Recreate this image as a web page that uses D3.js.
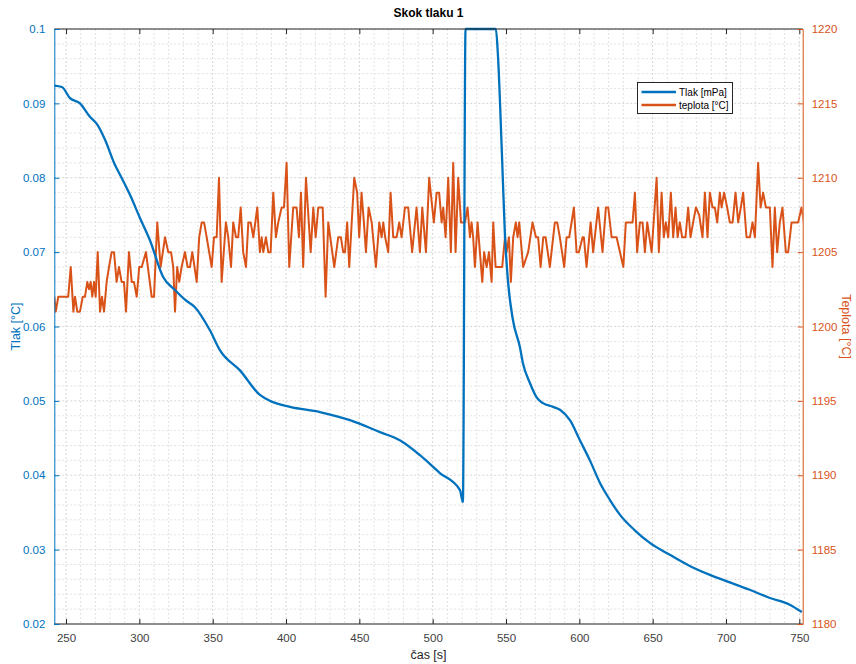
<!DOCTYPE html>
<html>
<head>
	<meta charset="utf-8">
	<title>Skok tlaku 1</title>
	<style type="text/css">
		html, body {
			margin: 0;
			padding: 0;
			background-color: #fff;
		}
		svg text {
			font-family: "Liberation Sans", Arial, Helvetica, sans-serif;
		}
	</style>
</head>
<body>
	<div id="chart"></div>
	<script src="https://cdn.jsdelivr.net/npm/d3@7/dist/d3.min.js"></script>
	<script type="text/javascript">
		// tlak (left axis) - time [s] and value
		const tlakTime = [242, 247.2, 252.7, 259.5, 266.3, 271.1, 276.6, 283.4, 286.8, 293.6, 300.4, 307.2,
			316.1, 324.3, 331.1, 337.9, 348.1, 355, 368.6, 382.2, 389.1, 402.7, 423.1, 443.6, 464, 477.6,
			491.3, 504.9, 518.6, 520.6, 522.4, 543.1, 544.4, 547.2, 549.2, 551.3, 554.7, 559.5, 561.5,
			566.3, 571.1, 575.2, 582, 586.8, 593.6, 600.4, 607.2, 614, 620.8, 627.6, 637.8, 648.1, 661.7,
			675.3, 689, 702.6, 716.2, 729.9, 743.5, 751.7];
		const tlakVal = [0.0924, 0.0922, 0.0907, 0.0900, 0.0882, 0.0872, 0.0851, 0.0817, 0.0804, 0.0777, 0.0746, 0.0716,
			0.0667, 0.0649, 0.0636, 0.0626, 0.0595, 0.0568, 0.0541, 0.0508, 0.0500, 0.0492, 0.0485, 0.0474, 0.0458, 0.0447,
			0.0427, 0.0403, 0.0380, 0.0364, 0.1, 0.1, 0.0968, 0.0833, 0.0726, 0.0662, 0.0609, 0.0572, 0.0551,
			0.0524, 0.0504, 0.0497, 0.0492, 0.0488, 0.0474, 0.0447, 0.0420, 0.0390, 0.0367, 0.0347, 0.0326, 0.0309, 0.0293,
			0.0278, 0.0266, 0.0256, 0.0246, 0.0235, 0.0226, 0.0216];

		// teplota (right axis) - time [s] and value
		const tempTime = [242, 243, 244.7, 251.5, 253.2, 255, 256.1, 257.7, 259.5, 261.4, 262.9, 264.5, 265.7, 266.8,
			267.9, 269.1, 270.2, 271.6, 273.2, 274.5, 275.9, 277.7, 279.3, 281.1, 282.7, 284.5, 286.1, 287.9, 289.5,
			290.9, 292.9, 294.8, 296.3, 298.2, 299.9, 301.6, 304.5, 308.4, 310, 312.2, 314.5, 317.5, 319.7, 321.6,
			323.1, 324.3, 325.8, 327.2, 328.8, 331.1, 332.9, 334.5, 336.1, 339.1, 340.8, 342.5, 344.1, 345.9, 349.3,
			350.9, 352.7, 354.3, 356.1, 359, 360.6, 362.5, 364, 365.9, 367.4, 369.1, 370.8, 372.7, 374.3, 375.9,
			377.7, 380.4, 382.2, 383.4, 384.5, 386.3, 387.9, 389.5, 391.3, 393.1, 394.7, 397, 398.6, 400.4, 402.2,
			404.9, 407.2, 408.8, 410.2, 411.7, 413.6, 416.8, 418.6, 420.2, 422, 425, 427, 428.8, 432.9, 435.6,
			437.4, 439, 440.2, 441.7, 443.1, 446.5, 448.5, 449.9, 451.5, 453.1, 454.5, 456.3, 458.4, 461.3, 463.6,
			465.2, 466.3, 467.6, 469.7, 471.3, 473.1, 475.4, 477.2, 478.8, 481.1, 483.3, 486, 489, 491.3, 492.9,
			495.4, 497.6, 500.8, 502.7, 504.4, 506.1, 507.2, 508.8, 510.6, 512.4, 514, 515.6, 517.4, 519.3, 522,
			523.8, 525.4, 526.5, 527.6, 528.8, 530.6, 532.2, 533.8, 535.1, 536.8, 538.4, 540.2, 541.3, 542.9, 544.7,
			547.4, 549.3, 550.4, 552, 553.3, 554.9, 556.7, 557.9, 559, 561.7, 565.1, 568.1, 570.4, 571.9, 573.6,
			575.4, 577, 579.9, 583.3, 584.9, 586.7, 589.7, 591.3, 593.1, 596.3, 598.1, 599.7, 602.2, 603.1, 604.9,
			607.7, 609.4, 612.8, 615.8, 618.1, 619.7, 622, 625.4, 630, 631.7, 634.5, 636.3, 637.9, 639.4, 641.3,
			643.1, 644.7, 646.3, 649.3, 652.7, 654.2, 656.1, 657.6, 659, 660.6, 662.4, 664, 665.6, 667, 668.5,
			670.1, 672.4, 674.2, 675.8, 677.6, 679.5, 681.7, 684, 685.6, 687.4, 689, 690.8, 692.4, 694, 695.8,
			697, 698.7, 700.8, 702.6, 704.5, 706.5, 708.3, 710.1, 711.7, 714, 716.3, 718.1, 719.7, 721.9, 723.6,
			725.3, 727.2, 729.9, 731.7, 733.3, 734.9, 736.7, 738.5, 740.8, 742.4, 744.7, 746.9, 749.2, 751.5, 753.1];
		const tempVal = [1202, 1201, 1202, 1202, 1204, 1201, 1202, 1201, 1201, 1202, 1202, 1203, 1202.5, 1203,
			1202, 1203, 1202, 1205, 1201, 1202, 1201, 1203, 1204, 1205, 1205, 1203, 1204, 1203, 1203,
			1201, 1205, 1203, 1203, 1202, 1204, 1204, 1205, 1202, 1202, 1207, 1204, 1206, 1205, 1205,
			1204, 1201, 1204, 1203, 1204, 1205, 1204, 1204, 1205, 1203, 1206, 1207, 1207, 1206, 1204,
			1206, 1206, 1210, 1203, 1207, 1206, 1204, 1207, 1206, 1206, 1208, 1205, 1204, 1207, 1207,
			1206, 1208, 1205, 1206, 1205, 1206, 1205, 1205, 1209, 1206, 1207, 1208, 1208, 1211, 1204,
			1208, 1208, 1206, 1209, 1204, 1210, 1205, 1208, 1206, 1208, 1208, 1202, 1207, 1204, 1206,
			1206, 1205, 1205, 1207, 1204, 1210, 1209, 1206, 1209, 1207, 1205, 1208, 1207, 1204, 1207,
			1206, 1207, 1206, 1205, 1209, 1206, 1206, 1207, 1206, 1208, 1208, 1205, 1208, 1205, 1208,
			1205, 1210, 1207, 1209, 1209, 1207, 1208, 1206, 1210, 1205, 1211, 1205, 1210, 1207, 1207,
			1208, 1206, 1207, 1206, 1204, 1207, 1205, 1203, 1205, 1204, 1205, 1203, 1207, 1204, 1204,
			1204, 1206, 1205, 1206, 1203, 1206, 1207, 1206, 1207, 1204, 1205, 1207, 1206, 1206, 1204,
			1206, 1206, 1204, 1207, 1207, 1206, 1204, 1206, 1206, 1208, 1205, 1205, 1206, 1206, 1204,
			1207, 1205, 1208, 1205, 1208, 1208, 1206, 1206, 1204, 1207, 1207, 1207, 1209, 1205, 1207,
			1207, 1205, 1207, 1205, 1210, 1205, 1209, 1206, 1207, 1206, 1209, 1206, 1208, 1206, 1207,
			1206, 1206, 1208, 1206, 1207, 1208, 1207.5, 1206, 1209, 1206, 1209, 1208, 1208, 1207, 1209,
			1208, 1209, 1208, 1207, 1207, 1209, 1207, 1208, 1209, 1206, 1206, 1207, 1206, 1211, 1208,
			1209, 1208, 1208, 1204, 1208, 1205, 1207, 1208, 1205, 1205, 1207, 1207, 1207, 1208, 1207];

		const xTicks = [250, 300, 350, 400, 450, 500, 550, 600, 650, 700, 750];
		const yLeftTicks = [0.02, 0.03, 0.04, 0.05, 0.06, 0.07, 0.08, 0.09, 0.1];
		const yLeftLabels = ['0.02', '0.03', '0.04', '0.05', '0.06', '0.07', '0.08', '0.09', '0.1'];
		const yRightTicks = [1180, 1185, 1190, 1195, 1200, 1205, 1210, 1215, 1220];

		const width = 856, height = 664;
		const margin = { left: 54.3, right: 856 - 802.7, top: 29, bottom: 664 - 624 };
		const blue = '#0072BD', orange = '#D95319', axisGray = '#262626';

		const svg = d3.select('#chart')
			.append('svg')
			.attr('width', width)
			.attr('height', height);

		const xScale = d3.scaleLinear()
			.domain([242, 752.3])
			.range([margin.left, width - margin.right]);

		const yLeft = d3.scaleLinear()
			.domain([0.02, 0.1])
			.range([height - margin.bottom, margin.top]);

		const yRight = d3.scaleLinear()
			.domain([1180, 1220])
			.range([height - margin.bottom, margin.top]);

		const x0 = margin.left, x1 = width - margin.right;
		const y0 = height - margin.bottom, y1 = margin.top;

		// grid (minor + major)
		const grid = svg.append('g');
		grid.selectAll('.vminor')
			.data(d3.range(250, 752, 10))
			.enter().append('line')
			.attr('x1', d => xScale(d)).attr('x2', d => xScale(d))
			.attr('y1', y1).attr('y2', y0)
			.attr('stroke', d => d % 50 === 0 ? '#d4d4d4' : '#e2e2e2')
			.attr('stroke-width', 1)
			.attr('stroke-dasharray', '2,2');
		grid.selectAll('.hminor')
			.data(d3.range(0, 41, 1))
			.enter().append('line')
			.attr('x1', x0).attr('x2', x1)
			.attr('y1', d => yRight(1180 + d)).attr('y2', d => yRight(1180 + d))
			.attr('stroke', d => d % 5 === 0 ? '#d4d4d4' : '#e2e2e2')
			.attr('stroke-width', 1)
			.attr('stroke-dasharray', '2,2');

		svg.append('defs').append('clipPath')
			.attr('id', 'clip')
			.append('rect')
			.attr('x', x0).attr('y', y1 - 2)
			.attr('width', x1 - x0).attr('height', y0 - y1 + 4);

		const tlakLine = d3.line()
			.curve(d3.curveMonotoneX)
			.x(d => xScale(d[0]))
			.y(d => yLeft(d[1]));
		const tempLine = d3.line()
			.x(d => xScale(d[0]))
			.y(d => yRight(d[1]));

		svg.append('path')
			.attr('clip-path', 'url(#clip)')
			.attr('d', tempLine(tempTime.map((t, i) => [t, tempVal[i]])))
			.attr('fill', 'none')
			.attr('stroke', orange)
			.attr('stroke-width', 2)
			.attr('stroke-linejoin', 'round');

		svg.append('path')
			.attr('clip-path', 'url(#clip)')
			.attr('d', tlakLine(tlakTime.map((t, i) => [t, tlakVal[i]])))
			.attr('fill', 'none')
			.attr('stroke', blue)
			.attr('stroke-width', 2.3)
			.attr('stroke-linejoin', 'round');

		// axes
		const xAxisB = d3.axisBottom(xScale).tickValues(xTicks).tickSize(-5).tickPadding(10);
		const gx = svg.append('g').attr('transform', `translate(0,${y0})`).call(xAxisB);
		gx.select('.domain').remove();
		gx.selectAll('line').attr('stroke', axisGray);
		gx.selectAll('text').attr('fill', '#404040').attr('font-size', 11.5);

		const xAxisT = d3.axisTop(xScale).tickValues(xTicks).tickSize(-5).tickFormat('');
		const gxt = svg.append('g').attr('transform', `translate(0,${y1})`).call(xAxisT);
		gxt.select('.domain').remove();
		gxt.selectAll('line').attr('stroke', axisGray);

		svg.append('line').attr('x1', x0).attr('x2', x1).attr('y1', y0).attr('y2', y0)
			.attr('stroke', axisGray).attr('stroke-width', 1);
		svg.append('line').attr('x1', x0).attr('x2', x1).attr('y1', y1).attr('y2', y1)
			.attr('stroke', axisGray).attr('stroke-width', 1);

		const yAxisL = d3.axisLeft(yLeft).tickValues(yLeftTicks).tickSize(-5).tickPadding(9)
			.tickFormat((d, i) => yLeftLabels[i]);
		const gyl = svg.append('g').attr('transform', `translate(${x0},0)`).call(yAxisL);
		gyl.select('.domain').attr('stroke', blue);
		gyl.selectAll('line').attr('stroke', blue);
		gyl.selectAll('text').attr('fill', blue).attr('font-size', 11.5);

		const yAxisR = d3.axisRight(yRight).tickValues(yRightTicks).tickSize(-5).tickPadding(9)
			.tickFormat(d3.format('d'));
		const gyr = svg.append('g').attr('transform', `translate(${x1},0)`).call(yAxisR);
		gyr.select('.domain').attr('stroke', orange);
		gyr.selectAll('line').attr('stroke', orange);
		gyr.selectAll('text').attr('fill', orange).attr('font-size', 11.5);

		// labels
		svg.append('text')
			.attr('x', (x0 + x1) / 2).attr('y', 17)
			.attr('text-anchor', 'middle')
			.attr('font-size', 12)
			.attr('font-weight', 'bold')
			.attr('fill', '#000')
			.text('Skok tlaku 1');

		svg.append('text')
			.attr('x', (x0 + x1) / 2).attr('y', 659)
			.attr('text-anchor', 'middle')
			.attr('font-size', 12.5)
			.attr('fill', '#262626')
			.text('čas [s]');

		svg.append('text')
			.attr('transform', `translate(20,${(y0 + y1) / 2}) rotate(-90)`)
			.attr('text-anchor', 'middle')
			.attr('font-size', 12.5)
			.attr('fill', blue)
			.text('Tlak [°C]');

		svg.append('text')
			.attr('transform', `translate(842,${(y0 + y1) / 2}) rotate(90)`)
			.attr('text-anchor', 'middle')
			.attr('font-size', 12.5)
			.attr('fill', orange)
			.text('Teplota [°C]');

		// legend
		const legend = svg.append('g').attr('transform', 'translate(637.5,82.5)');
		legend.append('rect')
			.attr('width', 95).attr('height', 31)
			.attr('fill', '#fff')
			.attr('stroke', '#262626')
			.attr('stroke-width', 1);
		const items = [{ name: 'Tlak [mPa]', color: blue }, { name: 'teplota [°C]', color: orange }];
		const rows = legend.selectAll('.item').data(items).enter().append('g')
			.attr('transform', (d, i) => `translate(0,${9.5 + i * 13})`);
		rows.append('line')
			.attr('x1', 4).attr('x2', 38.5)
			.attr('stroke', d => d.color)
			.attr('stroke-width', 2.3);
		rows.append('text')
			.attr('x', 41.5).attr('y', 3.5)
			.attr('font-size', 10)
			.attr('fill', '#000')
			.text(d => d.name);
	</script>
</body>
</html>
